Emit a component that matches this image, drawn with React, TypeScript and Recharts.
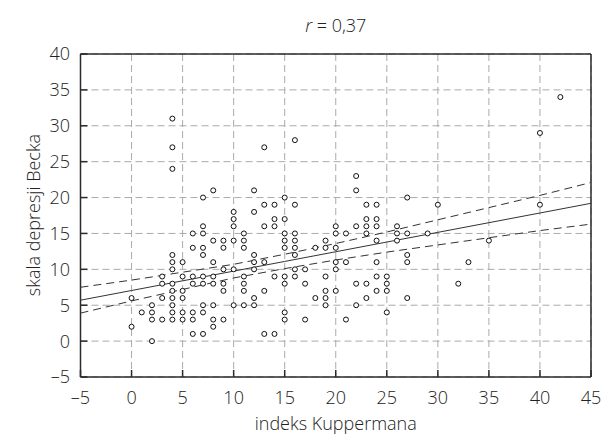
import { ScatterChart, Scatter, XAxis, YAxis, CartesianGrid } from 'recharts'

// indeks Kuppermana (x) vs skala depresji Becka (y)
const kuppermanIndex = [
  0, 0,
  1,
  2, 2, 2, 2,
  3, 3, 3, 3,
  4, 4, 4, 4, 4, 4, 4, 4, 4, 4, 4, 4,
  5, 5, 5, 5, 5, 5,
  6, 6, 6, 6, 6, 6, 6,
  7, 7, 7, 7, 7, 7, 7, 7, 7, 7,
  8, 8, 8, 8, 8, 8, 8, 8,
  9, 9, 9, 9, 9, 9,
  10, 10, 10, 10, 10, 10,
  11, 11, 11, 11, 11, 11, 11,
  12, 12, 12, 12, 12, 12, 12,
  13, 13, 13, 13, 13, 13,
  14, 14, 14, 14, 14,
  15, 15, 15, 15, 15, 15, 15, 15, 15,
  16, 16, 16, 16, 16, 16, 16, 16,
  17, 17, 17,
  18, 18,
  19, 19, 19, 19, 19, 19,
  20, 20, 20, 20, 20, 20,
  21, 21, 21,
  22, 22, 22, 22, 22,
  23, 23, 23, 23, 23, 23,
  24, 24, 24, 24, 24, 24, 24,
  25, 25, 25, 25,
  26, 26, 26,
  27, 27, 27, 27, 27,
  29, 30, 32, 33, 35,
  40, 40,
  42,
]

const beckScale = [
  6, 2,
  4,
  5, 4, 3, 0,
  9, 8, 6, 3,
  31, 27, 24, 12, 11, 10, 8, 7, 6, 5, 4, 3,
  11, 9, 7, 6, 4, 3,
  15, 13, 9, 8, 4, 3, 1,
  20, 16, 15, 13, 12, 9, 8, 5, 4, 1,
  21, 14, 11, 9, 8, 5, 3, 2,
  14, 13, 10, 8, 7, 3,
  18, 17, 16, 14, 10, 5,
  15, 14, 13, 9, 8, 7, 5,
  21, 18, 12, 11, 10, 6, 5,
  27, 19, 16, 11, 7, 1,
  19, 17, 16, 9, 1,
  20, 17, 15, 14, 13, 9, 8, 4, 3,
  28, 19, 15, 14, 13, 12, 10, 9,
  10, 8, 3,
  13, 6,
  14, 13, 9, 7, 6, 5,
  16, 15, 13, 11, 10, 7,
  15, 11, 3,
  23, 21, 16, 8, 5,
  19, 17, 16, 15, 8, 6,
  19, 17, 16, 14, 11, 9, 7,
  9, 8, 7, 4,
  16, 15, 14,
  20, 15, 12, 11, 6,
  15, 19, 8, 11, 14,
  29, 19,
  34,
]

// regression line and its confidence band, read at every x tick
const fitX = [-5, 0, 5, 10, 15, 20, 25, 30, 35, 40, 45]
const fitY = [5.7, 7.05, 8.4, 9.75, 11.1, 12.45, 13.8, 15.15, 16.5, 17.85, 19.2]
const ciUpper = [7.5, 8.5, 9.6, 10.7, 12.1, 13.6, 15.2, 16.9, 18.6, 20.3, 22.1]
const ciLower = [3.9, 5.6, 7.2, 8.8, 10.1, 11.3, 12.4, 13.4, 14.4, 15.4, 16.3]

const xTicks = [-5, 0, 5, 10, 15, 20, 25, 30, 35, 40, 45]
const yTicks = [-5, 0, 5, 10, 15, 20, 25, 30, 35, 40]

const points = kuppermanIndex.map((x, i) => ({ x, y: beckScale[i] }))
const fitLine = fitX.map((x, i) => ({ x, y: fitY[i] }))
const upperLine = fitX.map((x, i) => ({ x, y: ciUpper[i] }))
const lowerLine = fitX.map((x, i) => ({ x, y: ciLower[i] }))

const font = '"Open Sans", "Noto Sans", sans-serif'
const frame = '#2b2b2b'
const minus = (v: number) => String(v).replace('-', '\u2013')

const Ring = (props: any) => (
  <circle cx={props.cx} cy={props.cy} r={2.5} fill="#fff" stroke="#111" strokeWidth={1} />
)
const NoDot = () => <g />

const tickStyle = { fill: '#222', fontSize: 18, fontFamily: font, fontWeight: 300 }

export default function App() {
  return (
    <div style={{ position: 'absolute', left: 0, top: 0, width: 606, height: 438, fontFamily: font, fontWeight: 300, color: '#222' }}>
      <ScatterChart width={606} height={438} margin={{ top: 53, right: 14, bottom: 0, left: 0 }}>
        <CartesianGrid stroke="#aaaaaa" strokeDasharray="7 4" />
        <XAxis
          type="number" dataKey="x" domain={[-5, 45]} ticks={xTicks} height={61}
          tickFormatter={minus} tickSize={-7} tickMargin={21}
          axisLine={{ stroke: frame, strokeWidth: 1.5 }} tickLine={{ stroke: frame, strokeWidth: 1.5 }}
          tick={tickStyle} interval={0}
        />
        <XAxis
          xAxisId="top" orientation="top" type="number" dataKey="x" domain={[-5, 45]} ticks={xTicks}
          height={1} tick={false} tickSize={-7}
          axisLine={{ stroke: frame, strokeWidth: 1.5 }} tickLine={{ stroke: frame, strokeWidth: 1.5 }}
        />
        <YAxis
          type="number" dataKey="y" domain={[-5, 40]} ticks={yTicks} width={80.5}
          tickFormatter={minus} tickSize={-7} tickMargin={17.5}
          axisLine={{ stroke: frame, strokeWidth: 1.5 }} tickLine={{ stroke: frame, strokeWidth: 1.5 }}
          tick={tickStyle} interval={0}
        />
        <YAxis
          yAxisId="right" orientation="right" type="number" dataKey="y" domain={[-5, 40]} ticks={yTicks}
          width={1} tick={false} tickSize={-7}
          axisLine={{ stroke: frame, strokeWidth: 1.5 }} tickLine={{ stroke: frame, strokeWidth: 1.5 }}
        />
        <Scatter data={upperLine} line={{ stroke: '#333', strokeWidth: 1, strokeDasharray: '8 5' }} shape={NoDot} isAnimationActive={false} />
        <Scatter data={lowerLine} line={{ stroke: '#333', strokeWidth: 1, strokeDasharray: '8 5' }} shape={NoDot} isAnimationActive={false} />
        <Scatter data={fitLine} line={{ stroke: '#333', strokeWidth: 1 }} shape={NoDot} isAnimationActive={false} />
        <Scatter data={points} shape={Ring} isAnimationActive={false} />
      </ScatterChart>
      <div style={{ position: 'absolute', left: 80.5, width: 510.5, top: 14, textAlign: 'center', fontSize: 18, lineHeight: '22px' }}>
        <i>r</i> = 0,37
      </div>
      <div style={{ position: 'absolute', left: 80.5, width: 510.5, top: 411, textAlign: 'center', fontSize: 18, lineHeight: '24px' }}>
        indeks Kuppermana
      </div>
      <div style={{ position: 'absolute', left: 33 - 150, top: 215 - 12, width: 300, textAlign: 'center', fontSize: 18, lineHeight: '24px', transform: 'rotate(-90deg)' }}>
        skala depresji Becka
      </div>
    </div>
  )
}
